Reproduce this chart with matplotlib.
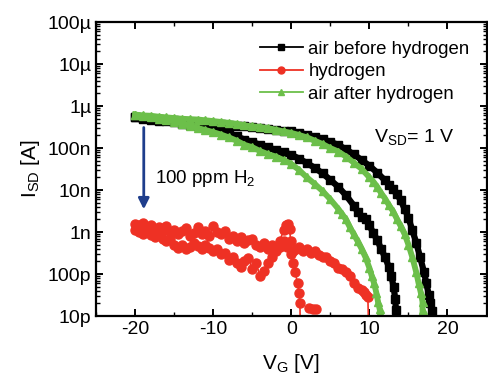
import numpy as np
import matplotlib.pyplot as plt
from matplotlib.ticker import LogLocator, NullFormatter, MultipleLocator

plt.rcParams['font.family'] = ['Liberation Sans', 'DejaVu Sans']
plt.rcParams['axes.unicode_minus'] = False

# air before hydrogen, two sweep branches (V, A)
bk_up_v = [-20, -19, -18, -17, -16, -15, -14, -13, -12, -11, -10, -9, -8, -7, -6, -5, -4, -3, -2, -1,
           0, 1, 2, 3, 4, 5, 6, 7, 8, 9, 10, 11, 12, 12.5, 13, 13.5, 14, 14.5, 15, 15.5, 16, 16.5,
           17, 17.3, 17.6, 17.8, 18.0, 18.1]
bk_up_i = [5.4e-7, 5.2e-7, 5.0e-7, 4.9e-7, 4.7e-7, 4.6e-7, 4.3e-7, 4.2e-7, 4.0e-7, 3.9e-7, 3.8e-7,
           3.7e-7, 3.5e-7, 3.4e-7, 3.3e-7, 3.1e-7, 3.0e-7, 2.8e-7, 2.75e-7, 2.6e-7,
           2.5e-7, 2.3e-7, 2.1e-7, 1.85e-7, 1.65e-7, 1.4e-7, 1.2e-7, 9.3e-8, 7.1e-8, 5.2e-8, 3.8e-8,
           2.6e-8, 1.7e-8, 1.35e-8, 1.05e-8, 8.0e-9, 5.8e-9, 3.6e-9, 2.2e-9, 1.1e-9, 5.6e-10, 2.5e-10,
           1.1e-10, 6.0e-11, 3.2e-11, 2.0e-11, 1.3e-11, 1e-12]
bk_lo_v = [-20, -19, -18, -17, -16, -15, -14, -13, -12, -11, -10, -9, -8, -7, -6, -5, -4, -3, -2, -1,
           0, 1, 2, 3, 4, 5, 6, 7, 8, 8.5, 9, 9.5, 10, 10.5, 11, 11.5, 12, 12.5, 12.8, 13.1, 13.3,
           13.4, 13.5]
bk_lo_i = [5.4e-7, 5.0e-7, 4.7e-7, 4.5e-7, 4.4e-7, 4.1e-7, 3.8e-7, 3.6e-7, 3.4e-7, 3.1e-7, 2.8e-7,
           2.5e-7, 2.2e-7, 1.9e-7, 1.6e-7, 1.4e-7, 1.2e-7, 1.05e-7, 9.0e-8, 8.0e-8,
           7.0e-8, 5.6e-8, 4.4e-8, 3.4e-8, 2.5e-8, 1.75e-8, 1.2e-8, 7.5e-9, 4.3e-9, 3.0e-9, 2.3e-9,
           2.0e-9, 1.45e-9, 9.5e-10, 6.5e-10, 4.0e-10, 2.5e-10, 1.5e-10, 9.0e-11, 5.0e-11, 2.6e-11,
           1.4e-11, 1e-12]

# hydrogen (noisy, two sweeps)
rd_a_v = [-20, -19.5, -19, -18.5, -18, -17.5, -17, -16.5, -16, -15.5, -15, -14.5, -14, -13.5, -13,
          -12.5, -12, -11.5, -11, -10.5, -10, -9.5, -9, -8.5, -8, -7.5, -7, -6.5, -6, -5.5, -5,
          -4.5, -4, -3.5, -3, -2.5, -2, -1.5, -1, -0.7, -0.4, -0.2, -0.1, 0.0, 0.2, 0.5, 0.8, 1.0,
          1.1, 1.2]
rd_a_i = [1.6e-9, 1.45e-9, 1.65e-9, 1.35e-9, 1.5e-9, 1.2e-9, 1.35e-9, 1.1e-9, 1.4e-9, 1.0e-9,
          1.15e-9, 9.0e-10, 1.05e-9, 1.25e-9, 8.0e-10, 9.5e-10, 1.3e-9, 9.0e-10, 1.05e-9, 8.0e-10,
          1.4e-9, 1.0e-9, 9.0e-10, 1.05e-9, 7.0e-10, 8.0e-10, 6.0e-10, 7.5e-10, 5.5e-10, 6.5e-10,
          7.0e-10, 5.0e-10, 4.5e-10, 5.5e-10, 4.0e-10, 5.0e-10, 4.5e-10, 6.0e-10, 1.1e-9,
          1.5e-9, 1.6e-9, 1.2e-9, 6.0e-10, 3.0e-10, 1.8e-10, 1.1e-10, 6.0e-11, 3.5e-11, 2.0e-11,
          1e-12]
rd_b_v = [-20, -19.5, -19, -18.5, -18, -17.5, -17, -16.5, -16, -15.5, -15, -14.5, -14, -13.5, -13,
          -12.5, -12, -11.5, -11, -10.5, -10, -9.5, -9, -8.5, -8, -7.5, -7, -6.5, -6, -5.5, -5,
          -4.5, -4, -3.5, -3, -2.5, -2, -1.5, -1, -0.5, 0.2, 0.6, 1, 1.5, 2, 2.5, 3, 3.5, 4, 4.5,
          5, 5.5, 6, 6.5, 7, 7.5, 8, 8.5, 9, 9.3, 9.6, 9.8, 10.0]
rd_b_i = [1.1e-9, 1.0e-9, 9.0e-10, 1.0e-9, 8.5e-10, 7.5e-10, 8.5e-10, 6.8e-10, 6.0e-10, 7.0e-10,
          5.0e-10, 4.2e-10, 5.0e-10, 4.0e-10, 4.5e-10, 5.6e-10, 4.8e-10, 4.0e-10, 5.0e-10,
          4.2e-10, 3.6e-10, 4.0e-10, 3.0e-10, 3.2e-10, 2.2e-10, 2.6e-10, 1.8e-10, 1.5e-10,
          2.0e-10, 2.4e-10, 1.3e-10, 1.8e-10, 9.0e-11, 1.2e-10, 1.8e-10, 2.5e-10, 3.5e-10,
          4.5e-10, 6.3e-10, 4.5e-10, 3.6e-10, 4.0e-10, 4.5e-10, 3.6e-10, 4.0e-10, 3.2e-10,
          3.5e-10, 2.8e-10, 2.5e-10, 2.6e-10, 2.0e-10, 1.8e-10, 1.4e-10, 1.3e-10, 1.1e-10,
          9.0e-11, 6.0e-11, 4.8e-11, 4.2e-11, 3.8e-11, 3.2e-11, 2.8e-11, 1e-12]
rd_dot_v = [2.3, 2.8, 3.2]
rd_dot_i = [1.6e-11, 1.5e-11, 1.5e-11]

# air after hydrogen
gr_up_v = [-20, -19, -18, -17, -16, -15, -14, -13, -12, -11, -10, -9, -8, -7, -6, -5, -4, -3, -2, -1,
           0, 1, 2, 3, 4, 5, 6, 7, 8, 9, 10, 10.5, 11, 11.5, 12, 12.5, 13, 13.5, 14, 14.5, 15, 15.5,
           16, 16.3, 16.6, 16.8, 16.8, 16.9]
gr_up_i = [6.3e-7, 6.0e-7, 5.9e-7, 5.6e-7, 5.4e-7, 5.2e-7, 5.0e-7, 4.9e-7, 4.8e-7, 4.6e-7, 4.4e-7,
           4.2e-7, 4.0e-7, 3.8e-7, 3.5e-7, 3.3e-7, 3.2e-7, 3.0e-7, 2.75e-7, 2.5e-7,
           2.3e-7, 2.05e-7, 1.8e-7, 1.5e-7, 1.25e-7, 1.0e-7, 8.3e-8, 6.3e-8, 4.5e-8, 3.2e-8, 2.0e-8,
           1.6e-8, 1.2e-8, 8.5e-9, 6.3e-9, 4.4e-9, 3.2e-9, 2.1e-9, 1.4e-9, 9.0e-10, 5.0e-10,
           2.5e-10, 1.1e-10, 6.0e-11, 3.5e-11, 2.2e-11, 1.4e-11, 1e-12]
gr_lo_v = [-20, -19, -18, -17, -16, -15, -14, -13, -12, -11, -10, -9, -8, -7, -6, -5, -4, -3, -2, -1,
           0, 1, 2, 3, 4, 5, 6, 6.5, 7, 7.5, 8, 8.5, 9, 9.5, 10, 10.3, 10.6, 10.9, 11.1, 11.3,
           11.4, 11.5]
gr_lo_i = [6.3e-7, 5.8e-7, 5.4e-7, 5.0e-7, 4.7e-7, 4.3e-7, 3.8e-7, 3.4e-7, 3.0e-7, 2.7e-7, 2.4e-7,
           2.1e-7, 1.8e-7, 1.5e-7, 1.2e-7, 1.05e-7, 8.5e-8, 7.2e-8, 6.3e-8, 5.2e-8,
           4.2e-8, 3.0e-8, 2.0e-8, 1.4e-8, 9.5e-9, 6.0e-9, 3.6e-9, 2.7e-9, 2.0e-9, 1.3e-9, 8.9e-10,
           6.0e-10, 4.0e-10, 2.5e-10, 1.4e-10, 9.0e-11, 6.0e-11, 3.5e-11, 2.2e-11, 1.5e-11,
           1.2e-11, 1e-12]

decades = [1e-11, 1e-10, 1e-9, 1e-8, 1e-7, 1e-6, 1e-5, 1e-4]
decade_labels = ['10p', '100p', '1n', '10n', '100n', '1\u00b5', '10\u00b5', '100\u00b5']

c_black = '#000000'
c_red = '#ee3124'
c_green = '#6cbf4a'
c_arrow = '#1f3e8c'

fig = plt.figure(figsize=(4.88, 3.75), dpi=100)
ax = fig.add_axes([0.197, 0.157, 0.80, 0.784])

ax.plot(bk_up_v, bk_up_i, '-s', color=c_black, ms=5.5, lw=4.5, label='air before hydrogen')
ax.plot(bk_lo_v, bk_lo_i, '-s', color=c_black, ms=5.5, lw=4.5)
ax.plot(rd_a_v, rd_a_i, '-o', color=c_red, ms=6.5, lw=1.2, label='hydrogen')
ax.plot(rd_b_v, rd_b_i, '-o', color=c_red, ms=6.5, lw=1.2)
ax.plot(rd_dot_v, rd_dot_i, 'o', color=c_red, ms=6.5)
ax.plot(gr_up_v, gr_up_i, '-^', color=c_green, ms=6, lw=4.2, label='air after hydrogen')
ax.plot(gr_lo_v, gr_lo_i, '-^', color=c_green, ms=6, lw=4.2)

ax.set_yscale('log')
ax.set_xlim(-25, 25)
ax.set_ylim(1e-11, 1e-4)
ax.set_yticks(decades, decade_labels)
ax.yaxis.set_minor_locator(LogLocator(base=10, subs=np.arange(2, 10), numticks=20))
ax.yaxis.set_minor_formatter(NullFormatter())
ax.set_xticks([-20, -10, 0, 10, 20])
ax.xaxis.set_minor_locator(MultipleLocator(5))

for s in ax.spines.values():
    s.set_linewidth(1.6)
ax.tick_params(which='both', direction='in', top=True, right=True, labelsize=14)
ax.tick_params(which='major', length=5, width=1.4)
ax.tick_params(which='minor', length=3, width=1.0)

ax.set_xlabel('V$_\\mathregular{G}$ [V]', fontsize=15, labelpad=10)
ax.set_ylabel('I$_\\mathregular{SD}$ [A]', fontsize=15, labelpad=4)

ax.annotate('', xy=(-18.9, 3.0e-9), xytext=(-18.9, 3.6e-7),
            arrowprops=dict(arrowstyle='-|>', color=c_arrow, lw=2, mutation_scale=16))
ax.text(-17.4, 1.9e-8, '100 ppm H$_\\mathregular{2}$', fontsize=13.5, va='center')
ax.text(10.6, 1.8e-7, 'V$_\\mathregular{SD}$= 1 V', fontsize=14, va='center')

leg = ax.legend(loc='upper right', frameon=False, fontsize=13.4, handlelength=2.3,
                handletextpad=0.3, labelspacing=0.3, borderaxespad=0.2,
                bbox_to_anchor=(0.985, 0.975))
for h in leg.get_lines():
    h.set_linewidth(1.3)
    h.set_markersize(5)

fig.savefig('out.png', dpi=100)
